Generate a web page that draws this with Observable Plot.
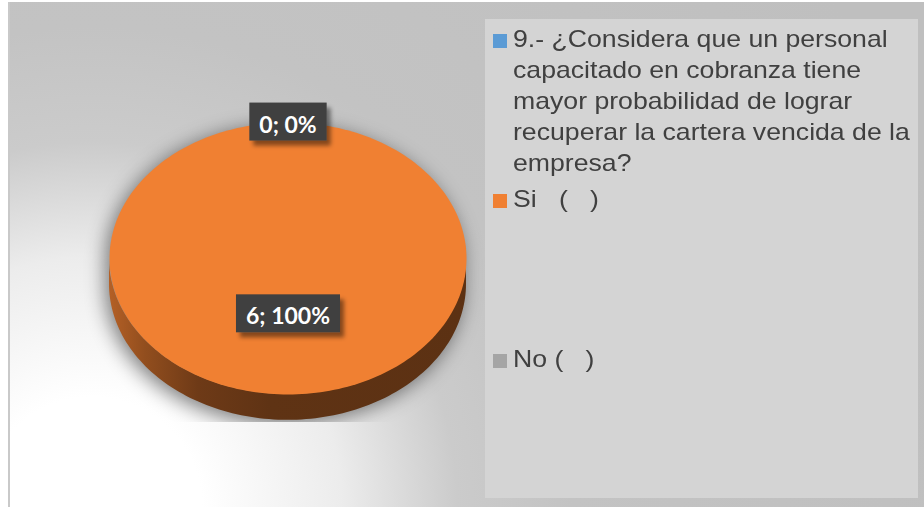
<!DOCTYPE html>
<html>
<head>
<meta charset="utf-8">
<script src="https://cdn.jsdelivr.net/npm/d3@7"></script>
<script src="https://cdn.jsdelivr.net/npm/@observablehq/plot@0.6"></script>
<style>
  html, body { margin: 0; padding: 0; background: #ffffff; }
  #wrap { position: relative; width: 924px; height: 507px; overflow: hidden; background: #ffffff; }
  #area {
    position: absolute; left: 8px; top: 2px; width: 914px; height: 505px;
    border-left: 2px solid #c9c9c9;
    background: radial-gradient(circle at 82px 505px, #ffffff 0px, #ffffff 110px, #ececec 250px, #cbcbcb 365px, #c3c3c3 480px, #bfbfbf 900px);
  }
  #chart { position: absolute; left: 0; top: 0; }
  #legend {
    position: absolute; left: 485px; top: 19px; width: 433px; height: 479px;
    background: #d4d4d4;
    font-family: "Liberation Sans", Arial, sans-serif; font-size: 24px; color: #404040;
  }
  .item { position: absolute; left: 28px; width: 366px; line-height: 31px; white-space: pre-wrap; transform: scaleX(1.11); transform-origin: 0 0; }
  .sw { position: absolute; left: 8px; width: 14px; height: 14px; }
</style>
</head>
<body>
<div id="wrap">
  <div id="area"></div>
  <div id="chart"></div>
  <div id="legend"></div>
</div>
<script>
// ---------------- data ----------------
const seriesName = "9.- ¿Considera que un personal capacitado en cobranza tiene mayor probabilidad de lograr recuperar la cartera vencida de la empresa?";
const categories = ["Si   (   )", "No (   )"];
const values = [6, 0];

// ---------------- styles ----------------
const seriesColor = "#5B9BD5";
const sliceColors = ["#F08032", "#A5A5A5"];

const rows = categories.map((c, i) => ({category: c, value: values[i]}));
const total = d3.sum(values);
const pieArcs = d3.pie().sort(null).value(d => d.value)(rows);

const depth = 0.19;     // thickness of the 3D pie in y units
const steps = 240;
const labelRadius = p => (p.endAngle - p.startAngle) > 0 ? 0.43 : 0.98;

function arcPoints(a0, a1, dy) {
  const n = Math.max(2, Math.ceil(Math.abs(a1 - a0) / (2 * Math.PI) * steps));
  const pts = [];
  for (let j = 0; j <= n; j++) {
    const a = a0 + (a1 - a0) * j / n;
    pts.push({x: Math.sin(a), y: Math.cos(a) + dy});
  }
  return pts;
}

// silhouette for shadow
const silhouette = [
  ...arcPoints(-Math.PI / 2, Math.PI / 2, 0),
  ...arcPoints(Math.PI / 2, 3 * Math.PI / 2, -depth)
];

const sideMarks = [];
const topMarks = [];
pieArcs.forEach((p, i) => {
  const span = p.endAngle - p.startAngle;
  if (span <= 0) return;
  const a0 = Math.max(p.startAngle, Math.PI / 2), a1 = Math.min(p.endAngle, 3 * Math.PI / 2);
  if (a1 > a0) {
    const n = Math.max(2, Math.ceil((a1 - a0) / (2 * Math.PI) * steps));
    const side = [];
    for (let j = 0; j <= n; j++) {
      const a = a0 + (a1 - a0) * j / n;
      side.push({x: Math.sin(a), y1: Math.cos(a) - depth, y2: Math.cos(a)});
    }
    sideMarks.push(Plot.areaY(side, {x: "x", y1: "y1", y2: "y2", fill: sliceColors[i], curve: "linear"}));
  }
  const full = span >= 2 * Math.PI - 1e-9;
  const pts = full ? arcPoints(p.startAngle, p.endAngle, 0)
                   : [{x: 0, y: 0}, ...arcPoints(p.startAngle, p.endAngle, 0)];
  topMarks.push(Plot.line(pts, {x: "x", y: "y", fill: sliceColors[i], stroke: "none", curve: "linear-closed"}));
});

const labels = pieArcs.map((p, i) => {
  const mid = (p.startAngle + p.endAngle) / 2;
  const r = labelRadius(p);
  return {
    x: Math.sin(mid) * r,
    y: Math.cos(mid) * r,
    text: `${rows[i].value}; ${Math.round(rows[i].value / total * 100)}%`
  };
});

const chart = Plot.plot({
  width: 924, height: 507,
  marginLeft: 109, marginRight: 458, marginTop: 122, marginBottom: 113,
  x: {domain: [-1, 1], axis: null},
  y: {domain: [-1, 1], axis: null},
  style: {background: "transparent", overflow: "visible"},
  marks: [
    Plot.line(silhouette, {x: "x", y: "y", fill: "#000000", stroke: "none", curve: "linear-closed"}),
    ...sideMarks,
    ...topMarks,
    Plot.text(labels, {x: "x", y: "y", text: "text", fill: "white", fontFamily: "Lato, 'Open Sans', sans-serif", fontWeight: "bold", fontSize: 23})
  ]
});
document.getElementById("chart").appendChild(chart);

// defs: gradients and filters
const svg = d3.select(chart);
const defs = svg.insert("defs", ":first-child");
pieArcs.forEach((p, i) => {
  const base = d3.color(sliceColors[i]);
  const g = defs.append("linearGradient").attr("id", `sideGrad${i}`).attr("x1", 0).attr("x2", 1).attr("y1", 0).attr("y2", 0);
  [[0, 0.8], [0.1, 1.4], [0.25, 2.2], [0.45, 2.6], [1, 2.7]].forEach(([o, k]) =>
    g.append("stop").attr("offset", o).attr("stop-color", base.darker(k).formatHex()));
});
const sh = defs.append("filter").attr("id", "pieShadow")
  .attr("filterUnits", "userSpaceOnUse").attr("x", 0).attr("y", 0).attr("width", 924).attr("height", 421);
sh.append("feGaussianBlur").attr("stdDeviation", 10);
sh.append("feOffset").attr("dx", -4).attr("dy", 4);
sh.append("feComponentTransfer").append("feFuncA").attr("type", "linear").attr("slope", 0.5);

const ls = defs.append("filter").attr("id", "labelShadow").attr("x", "-20%").attr("y", "-20%").attr("width", "150%").attr("height", "160%");
ls.append("feDropShadow").attr("dx", 4).attr("dy", 5).attr("stdDeviation", 2.2).attr("flood-color", "#000").attr("flood-opacity", 0.45);

// mark groups in render order
const groups = svg.selectAll(":scope > g").nodes();
const shadowG = groups[0];
const sideGs = groups.slice(1, 1 + sideMarks.length);
const textG = groups[groups.length - 1];
d3.select(shadowG).attr("filter", "url(#pieShadow)");
sideGs.forEach((g, k) => d3.select(g).selectAll("path").attr("fill", `url(#sideGrad${k})`));

// label boxes (placed in the same local frame as each text)
d3.select(textG).selectAll("text").each(function () {
  const b = this.getBBox();
  const cx = b.x + b.width / 2, cy = b.y + b.height / 2 + 1;
  d3.select(this.parentNode).insert("rect", () => this)
    .attr("transform", this.getAttribute("transform"))
    .attr("x", cx - b.width / 2 - 10).attr("width", b.width + 20)
    .attr("y", cy - 22).attr("height", 38)
    .attr("fill", "#404040").attr("filter", "url(#labelShadow)");
});

// legend
const legend = d3.select("#legend");
const entries = [
  {text: seriesName, color: seriesColor},
  ...categories.map((c, i) => ({text: c, color: sliceColors[i]}))
];
const tops = [4, 164, 324];
entries.forEach((e, i) => {
  legend.append("div").attr("class", "sw").style("top", (tops[i] + 11) + "px").style("background", e.color);
  legend.append("div").attr("class", "item").style("top", tops[i] + "px").text(e.text);
});
</script>
</body>
</html>
